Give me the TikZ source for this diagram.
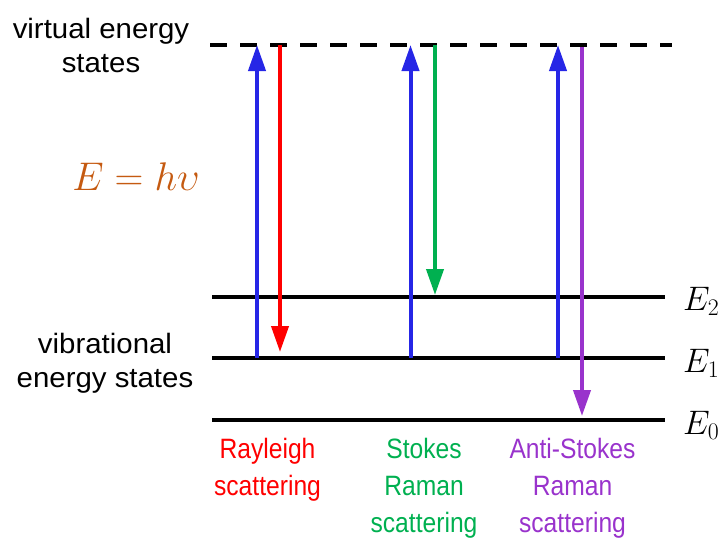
\RequirePackage{fix-cm}
\documentclass[tikz,border=0pt]{standalone}
\usepackage{fontspec}
\setmainfont{Liberation Sans}
\newfontfamily\leftfont[FakeStretch=1.05]{Liberation Sans}
\newfontfamily\botfont[FakeStretch=0.88]{Liberation Sans}
\usetikzlibrary{arrows.meta}
\definecolor{cblue}{RGB}{38,38,230}
\definecolor{cred}{RGB}{255,0,0}
\definecolor{cgreen}{RGB}{0,176,80}
\definecolor{cpurple}{RGB}{153,51,204}
\definecolor{corange}{RGB}{197,90,17}
\tikzset{
  level/.style={line width=4pt, black},
  virt/.style={line width=4pt, black, dash pattern=on 16.7pt off 13.3pt},
  photon/.style={line width=4pt, -{Triangle[width=17pt,length=26pt]}},
  sidelabel/.style={inner sep=0pt, align=center, font=\leftfont\fontsize{28}{34}\selectfont},
  botlabel/.style={inner sep=0pt, anchor=north, align=center, font=\botfont\fontsize{28}{37}\selectfont},
  elabel/.style={inner sep=0pt, anchor=base west, font=\fontsize{34}{40}\selectfont}
}
\begin{document}
\begin{tikzpicture}[x=1pt,y=-1pt]
\useasboundingbox (0,0) rectangle (726,538);
% level end points
\coordinate (vL) at (210,45);  \coordinate (vR) at (672,45);
\coordinate (e2L) at (212,297); \coordinate (e2R) at (665,297);
\coordinate (e1L) at (212,358); \coordinate (e1R) at (665,358);
\coordinate (e0L) at (212,420); \coordinate (e0R) at (665,420);
\draw[virt] (vL) -- (vR);
\draw[level] (e2L) -- (e2R);
\draw[level] (e1L) -- (e1R);
\draw[level] (e0L) -- (e0R);
% arrows
\coordinate (b1s) at (257,358); \coordinate (b1e) at (257,45);
\coordinate (rs) at (280,45);   \coordinate (re) at (280,352);
\coordinate (b2s) at (410.5,358); \coordinate (b2e) at (410.5,45);
\coordinate (gs) at (435,45);   \coordinate (ge) at (435,295);
\coordinate (b3s) at (558,358); \coordinate (b3e) at (558,45);
\coordinate (ps) at (582,47);   \coordinate (pe) at (582,416);
\draw[photon, cblue] (b1s) -- (b1e);
\draw[photon, cred] (rs) -- (re);
\draw[photon, cblue] (b2s) -- (b2e);
\draw[photon, cgreen] (gs) -- (ge);
\draw[photon, cblue] (b3s) -- (b3e);
\draw[photon, cpurple] (ps) -- (pe);
% labels
\node[sidelabel] (virtual) at (101,45) {virtual energy\\states};
\node[sidelabel] (vib) at (105,363) {vibrational\\energy states};
\node[inner sep=0pt, anchor=base, text=corange, font=\fontsize{40}{48}\selectfont] (energy) at (136,190) {$E = h\upsilon$};
\node[elabel] (E2) at (683,310) {$E_2$};
\node[elabel] (E1) at (683,372) {$E_1$};
\node[elabel] (E0) at (683,434) {$E_0$};
\node[botlabel, text=cred] (ray) at (267.5,438) {Rayleigh\\scattering};
\node[botlabel, text=cgreen] (stokes) at (424,438) {Stokes\\Raman\\scattering};
\node[botlabel, text=cpurple] (anti) at (572.5,438) {Anti-Stokes\\Raman\\scattering};
\end{tikzpicture}
\end{document}
